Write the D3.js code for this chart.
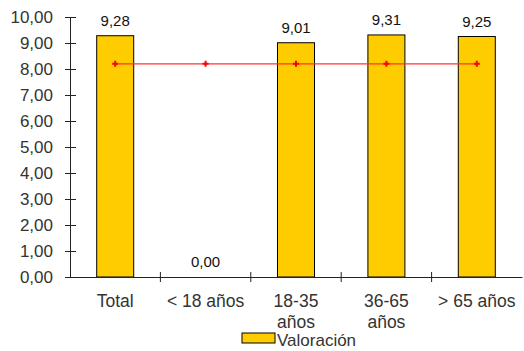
<!DOCTYPE html>
<html>
<head>
<meta charset="utf-8">
<script src="https://cdn.jsdelivr.net/npm/d3@7"></script>
<style>
  body { margin: 0; background: #fff; }
  svg { font-family: "Liberation Sans", Arial, sans-serif; }
</style>
</head>
<body>
<svg id="chart" width="524" height="351"></svg>
<script>
// Chart data
const categories = ["Total", "< 18 años", "18-35 años", "36-65 años", "> 65 años"];
const categoryLines = [["Total"], ["< 18 años"], ["18-35", "años"], ["36-65", "años"], ["> 65 años"]];
const valoracion = [9.28, 0.00, 9.01, 9.31, 9.25];
const referencia = [8.2, 8.2, 8.2, 8.2, 8.2];
const yTicks = [0, 1, 2, 3, 4, 5, 6, 7, 8, 9, 10];

const margin = { top: 17, right: 2, bottom: 74, left: 70 };
const width = 524 - margin.left - margin.right;
const height = 351 - margin.top - margin.bottom;

const fmt = v => v.toFixed(2).replace(".", ",");

const svg = d3.select("#chart")
    .append("g")
    .attr("transform", "translate(" + margin.left + "," + margin.top + ")");

const x = d3.scaleBand()
    .domain(categories)
    .range([0, width])
    .paddingInner(0)
    .paddingOuter(0);

const y = d3.scaleLinear()
    .domain([0, 10])
    .range([height, 0]);

const barW = 37;

// Bars
svg.selectAll(".bar")
    .data(categories)
    .enter().append("rect")
    .attr("class", "bar")
    .attr("x", d => x(d) + x.bandwidth() / 2 - barW / 2)
    .attr("width", barW)
    .attr("y", (d, i) => y(valoracion[i]))
    .attr("height", (d, i) => height - y(valoracion[i]))
    .attr("fill", "#ffcc00")
    .attr("stroke", "#000")
    .attr("stroke-width", 1)
    .style("display", (d, i) => valoracion[i] > 0 ? null : "none");

// Value labels
svg.selectAll(".value-label")
    .data(categories)
    .enter().append("text")
    .attr("class", "value-label")
    .attr("x", d => x(d) + x.bandwidth() / 2)
    .attr("y", (d, i) => y(valoracion[i]) - 10)
    .attr("text-anchor", "middle")
    .style("font-size", "15px")
    .style("fill", "#111")
    .text((d, i) => fmt(valoracion[i]));

// Y axis
const yAxis = svg.append("g")
    .call(d3.axisLeft(y).tickValues(yTicks).tickFormat(fmt).tickSize(5).tickPadding(12));
yAxis.selectAll(".tick line").attr("x2", 6).attr("x1", -5).attr("stroke", "#222");
yAxis.select(".domain").attr("stroke", "#222");
yAxis.selectAll("text")
    .style("font-size", "17px")
    .style("font-family", "'Liberation Sans', Arial, sans-serif")
    .style("fill", "#333");

// X axis
const xAxis = svg.append("g")
    .attr("transform", "translate(0," + height + ")")
    .call(d3.axisBottom(x).tickSize(0).tickFormat(""));
xAxis.select(".domain").attr("stroke", "#222");

// Boundary tick marks between categories
svg.selectAll(".xtick")
    .data(categories.slice(1))
    .enter().append("line")
    .attr("class", "xtick")
    .attr("x1", d => x(d))
    .attr("x2", d => x(d))
    .attr("y1", height - 5)
    .attr("y2", height + 5)
    .attr("stroke", "#222");

// Category labels
const catLabels = svg.selectAll(".cat-label")
    .data(categories)
    .enter().append("text")
    .attr("class", "cat-label")
    .attr("x", d => x(d) + x.bandwidth() / 2)
    .attr("y", height + 30)
    .attr("text-anchor", "middle")
    .style("font-size", "17.5px")
    .style("fill", "#333");
catLabels.each(function(d, i) {
    d3.select(this).selectAll("tspan")
        .data(categoryLines[i])
        .enter().append("tspan")
        .attr("x", x(d) + x.bandwidth() / 2)
        .attr("dy", (t, j) => j === 0 ? 0 : 21)
        .text(t => t);
});

// Reference line
const line = d3.line()
    .x((d, i) => x(categories[i]) + x.bandwidth() / 2)
    .y(d => y(d));

svg.append("path")
    .datum(referencia)
    .attr("d", line)
    .attr("fill", "none")
    .attr("stroke", "#ff3333")
    .attr("stroke-width", 1.2);

svg.selectAll(".marker")
    .data(referencia)
    .enter().append("path")
    .attr("class", "marker")
    .attr("transform", (d, i) => "translate(" + (x(categories[i]) + x.bandwidth() / 2) + "," + y(d) + ")")
    .attr("d", "M-3,0H3M0,-3V3")
    .attr("stroke", "#ff0000")
    .attr("stroke-width", 2);

// Legend
const legend = d3.select("#chart").append("g")
    .attr("transform", "translate(242,333)");
legend.append("rect")
    .attr("width", 33)
    .attr("height", 10)
    .attr("fill", "#ffcc00")
    .attr("stroke", "#000");
legend.append("text")
    .attr("x", 35)
    .attr("y", 13)
    .style("font-size", "17px")
    .style("fill", "#333")
    .text("Valoración");
</script>
</body>
</html>
